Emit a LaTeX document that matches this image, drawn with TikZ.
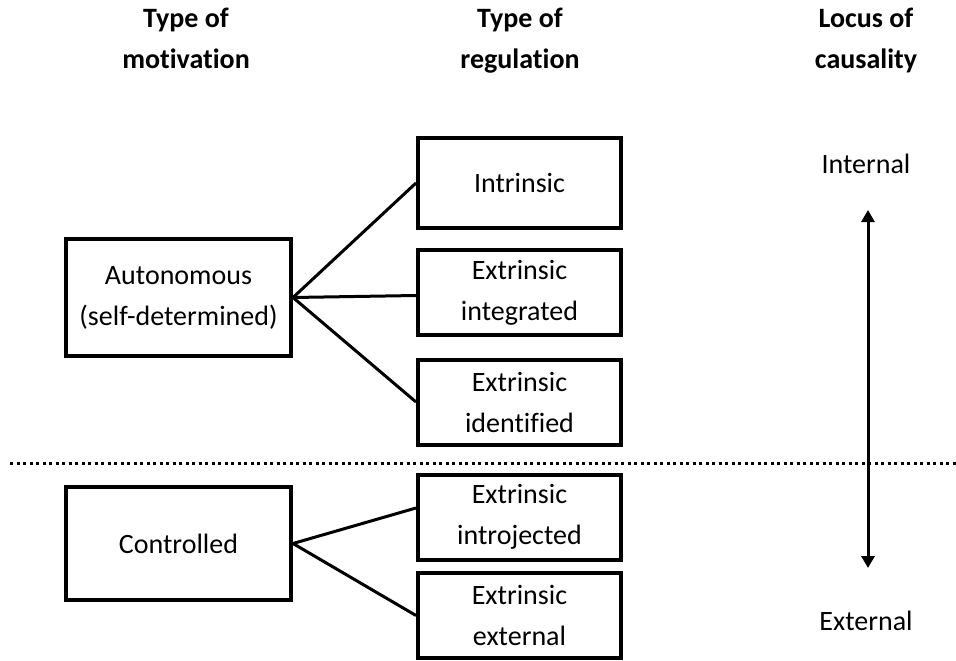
\documentclass[tikz,border=0pt]{standalone}
\usepackage{fontspec}
\setmainfont[Ligatures=NoCommon]{Carlito}
\usepackage{tikz}
\usetikzlibrary{arrows.meta}

\newcommand{\bigtext}{\fontsize{28}{41}\selectfont}

\tikzset{
    box/.style={draw, line width=4pt, align=center, inner sep=0pt},
    motbox/.style={box, minimum width=225pt, minimum height=117pt},
    regbox/.style={box, minimum width=203pt, minimum height=85pt},
    head/.style={align=center, anchor=north, inner sep=0pt, font=\bigtext\bfseries}
}

\begin{document}
\begin{tikzpicture}[x=1pt, y=-1pt, font=\bigtext]
        \useasboundingbox (0, 0) rectangle (956, 661);
        % Headings
        \node [head] (hmot) at (186, 8) {Type of\\motivation};
        \node [head] (hreg) at (520, 8) {Type of\\regulation};
        \node [head] (hloc) at (866, 8) {Locus of\\causality};
        % Motivation
        \node [motbox] (auto) at (178.5, 297.5) {Autonomous\\(self-determined)};
        \node [motbox, minimum height=113pt] (ctrl) at (178.5, 543.5) {Controlled};
        % Regulation
        \node [regbox, minimum height=90pt] (intr) at (519.5, 183) {Intrinsic};
        \node [regbox] (integ) at (519.5, 292.5) {Extrinsic\\integrated};
        \node [regbox] (ident) at (519.5, 402) {Extrinsic\\identified};
        \node [regbox] (intro) at (519.5, 517) {Extrinsic\\introjected};
        \node [regbox] (extl) at (519.5, 615.5) {Extrinsic\\external};
        % Lines
        \draw [line width=3pt] (auto.east) -- (intr.west);
        \draw [line width=3pt] (auto.east) -- ([yshift=-3pt]integ.west);
        \draw [line width=3pt] (auto.east) -- (ident.west);
        \draw [line width=3pt] (ctrl.east) -- ([yshift=9pt]intro.west);
        \draw [line width=3pt] (ctrl.east) -- (extl.west);
        % Locus
        \node (intl) at (866, 164) {Internal};
        \node (extn) at (866, 621) {External};
        \coordinate (top) at (868, 210);
        \coordinate (bot) at (868, 568);
        \draw [line width=3pt, {Triangle[width=13pt, length=12pt]}-{Triangle[width=13pt, length=12pt]}] (top) -- (bot);
        % Divider
        \coordinate (dl) at (10, 463);
        \coordinate (dr) at (956, 463);
        \draw [line width=3pt, dash pattern=on 3pt off 3.5pt] (dl) -- (dr);
\end{tikzpicture}
\end{document}
